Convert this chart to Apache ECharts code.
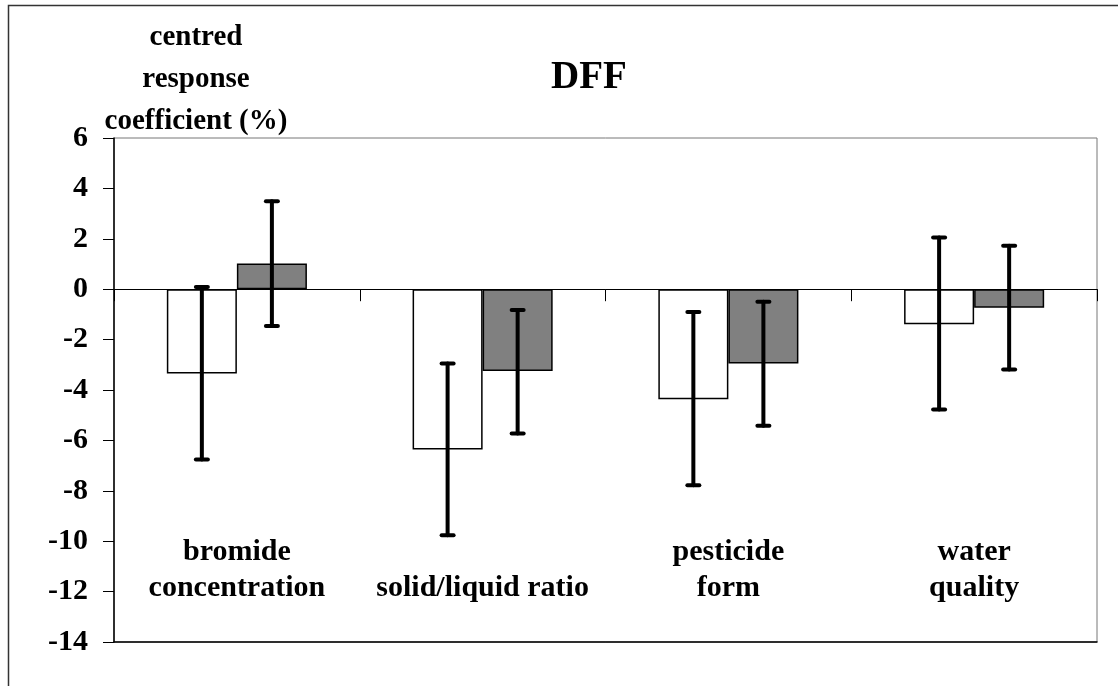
<!DOCTYPE html>
<html>
<head>
<meta charset="utf-8">
<script src="https://cdn.jsdelivr.net/npm/echarts@6/dist/echarts.min.js"></script>
<style>
html,body{margin:0;padding:0;background:#fff;}
#chart{width:1118px;height:686px;}
</style>
</head>
<body>
<div id="chart"></div>
<script>
// ---- data ----
var categories = ['bromide\nconcentration', 'solid/liquid ratio', 'pesticide\nform', 'water\nquality'];
var whiteValues = [-3.35, -6.36, -4.37, -1.39];
var whiteLow    = [-6.76, -9.76, -7.78, -4.77];
var whiteHigh   = [0.09, -2.95, -0.90, 2.05];
var grayValues  = [1.02, -3.25, -2.95, -0.74];
var grayLow     = [-1.46, -5.73, -5.42, -3.19];
var grayHigh    = [3.49, -0.83, -0.50, 1.72];
var yTicks = {min: -14, max: 6, interval: 2};
var titleText = 'DFF';
var yName = 'centred\nresponse\ncoefficient (%)';

var FONT = '"Liberation Serif", "Times New Roman", serif';

function errRender(sign) {
  return function (params, api) {
    var i = api.value(0);
    var lo = api.coord([i, api.value(1)]);
    var hi = api.coord([i, api.value(2)]);
    var bw = api.size([1, 0])[0];
    var x = lo[0] + sign * bw * 0.1425;
    var cap = 6;
    var st = {stroke: '#000', lineWidth: 4, lineCap: 'round', fill: null};
    return {type: 'group', children: [
      {type: 'line', shape: {x1: x, y1: hi[1], x2: x, y2: lo[1]}, style: st},
      {type: 'line', shape: {x1: x - cap, y1: hi[1], x2: x + cap, y2: hi[1]}, style: st},
      {type: 'line', shape: {x1: x - cap, y1: lo[1], x2: x + cap, y2: lo[1]}, style: st}
    ]};
  };
}

function errData(lo, hi) {
  return categories.map(function (c, i) { return [i, lo[i], hi[i]]; });
}

var chart = echarts.init(document.getElementById('chart'), null, {renderer: 'canvas'});
chart.setOption({
  backgroundColor: '#fff',
  animation: false,
  grid: {left: 114, top: 138, right: 21, bottom: 44, show: true, borderColor: '#777', borderWidth: 1, backgroundColor: 'transparent'},
  graphic: [
    {type: 'rect', shape: {x: 8.5, y: 5.5, width: 1300, height: 900}, style: {fill: null, stroke: '#333', lineWidth: 1.5}, z: 0, silent: true},
    {type: 'text', x: 589, y: 78, style: {text: titleText, font: 'bold 39px ' + FONT, fill: '#000', textAlign: 'center', textVerticalAlign: 'middle'}},
    {type: 'text', x: 196, y: 17, style: {text: yName, font: 'bold 29px ' + FONT, fill: '#000', textAlign: 'center', textVerticalAlign: 'top', lineHeight: 42}}
  ],
  xAxis: [
    {
      type: 'category', data: categories, position: 'bottom',
      axisLine: {onZero: true, lineStyle: {color: '#000', width: 1}},
      axisTick: {show: true, length: 12, alignWithLabel: false, lineStyle: {color: '#000'}},
      axisLabel: {show: false},
      splitLine: {show: false}
    },
    {
      type: 'category', data: categories, position: 'bottom',
      axisLine: {onZero: false, show: true, lineStyle: {color: '#000', width: 1.5}},
      axisTick: {show: false},
      axisLabel: {show: true, margin: -36, verticalAlign: 'bottom', color: '#000', fontFamily: FONT, fontWeight: 'bold', fontSize: 30, lineHeight: 36, interval: 0},
      splitLine: {show: false}
    }
  ],
  yAxis: {
    type: 'value', min: yTicks.min, max: yTicks.max, interval: yTicks.interval,
    axisLine: {show: true, lineStyle: {color: '#000', width: 1.5}},
    axisTick: {show: true, length: 11, lineStyle: {color: '#000'}},
    axisLabel: {color: '#000', fontFamily: FONT, fontWeight: 'bold', fontSize: 30, margin: 26},
    splitLine: {show: false}
  },
  series: [
    {type: 'bar', data: whiteValues, barGap: '0%', barCategoryGap: '43%',
     itemStyle: {color: '#fff', borderColor: '#000', borderWidth: 1.5}, z: 2},
    {type: 'bar', data: grayValues, barGap: '0%', barCategoryGap: '43%',
     itemStyle: {color: '#808080', borderColor: '#000', borderWidth: 1.5}, z: 2},
    {type: 'custom', renderItem: errRender(-1), data: errData(whiteLow, whiteHigh), encode: {x: 0, y: [1, 2]}, z: 5},
    {type: 'custom', renderItem: errRender(1), data: errData(grayLow, grayHigh), encode: {x: 0, y: [1, 2]}, z: 5}
  ]
});
</script>
</body>
</html>
